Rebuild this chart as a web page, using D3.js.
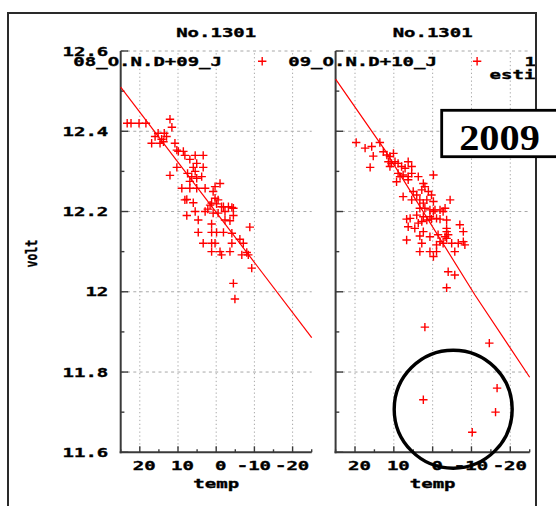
<!DOCTYPE html>
<html><head><meta charset="utf-8">
<script src="https://cdn.jsdelivr.net/npm/d3@7"></script>
<style>html,body{margin:0;padding:0;background:#fff;}svg{display:block;}</style>
</head><body>
<svg id="chart" width="556" height="506"></svg>
<script>
// ---- data ----
const panelTitles = ["No.1301", "No.1301"];
const seriesNames = ["08_O.N.D+09_J", "09_O.N.D+10_J"];
const extraKeyLabels = ["1", "estimate"];
const yTicks = [11.6, 11.8, 12, 12.2, 12.4, 12.6];
const yMinor = [11.7, 11.9, 12.1, 12.3, 12.5];
const xTicks = [20, 10, 0, -10, -20];
const xMinor = [25, 15, 5, -5, -15, -25];
const boxLabel = "2009";
const yLabel = "volt";
const xLabel = "temp";

// season 08 O.N.D + 09 J
const temp0809 = [23.3, 22.3, 20.2, 18.4, 12.1, 11.6, 15.2, 13.6, 16.0, 14.3, 13.0, 16.9, 14.7, 13.8, 10.8,
  10.3, 9.9, 8.6, 8.2, 5.5, 3.4, 6.9, 5.1, 3.4, 6.0, 10.3, 5.5, 7.5, 12.1, 6.4, 5.1, 3.8, 6.9, -1.0,
  9.0, 6.9, 5.1, 2.9, 0.3, 0.8, 7.7, 6.0, 0.3, -0.5, 1.6, -1.9, -4.1, 2.2, 8.2, 1.2, -0.1, -1.4, -3.2,
  -4.5, -2.3, -4.5, 2.9, 0.8, -0.5, 7.7, 5.5, 4.7, 1.2, -2.3, -3.6, -8.8, 4.7, 1.2, -0.1, -1.9, -4.1,
  3.4, 1.2, 0.3, -4.1, -6.2, -7.1, 1.2, -1.0, -1.4, -3.6, -6.7, -8.0, -8.4, -9.3, -4.5, -4.9];
const volt0809 = [12.42, 12.42, 12.42, 12.42, 12.43, 12.41, 12.395, 12.395, 12.387, 12.38, 12.387, 12.37, 12.37, 12.374, 12.37,
  12.353, 12.35, 12.35, 12.34, 12.34, 12.34, 12.33, 12.32, 12.31, 12.31, 12.31, 12.30, 12.295, 12.29, 12.287, 12.283, 12.287, 12.275, 12.27,
  12.258, 12.258, 12.258, 12.258, 12.262, 12.25, 12.23, 12.222, 12.233, 12.229, 12.216, 12.212, 12.21, 12.206, 12.229, 12.221, 12.219, 12.212, 12.212,
  12.208, 12.20, 12.19, 12.20, 12.196, 12.196, 12.19, 12.20, 12.179, 12.169, 12.179, 12.177, 12.161, 12.148, 12.148, 12.148, 12.148, 12.146,
  12.121, 12.121, 12.121, 12.121, 12.131, 12.121, 12.10, 12.10, 12.092, 12.10, 12.092, 12.098, 12.092, 12.059, 12.021, 11.982];

// season 09 O.N.D + 10 J
const temp0910 = [19.7, 17.4, 15.7, 13.6, 15.3, 16.1, 12.7, 11.8, 11.0, 10.1, 11.4, 10.6, 9.7, 11.0, 8.9, 8.0, 7.1,
  6.3, 5.4, 8.9, 8.4, 7.6, 6.3, 5.4, 3.7, -0.2, 9.3, 6.3, 2.4, 2.0, 2.8, 5.0, 4.1, 1.1, 0.3, 7.6, 5.4, 3.3,
  1.5, 2.4, -4.5, -0.2, 3.3, 2.0, 0.7, -0.6, -1.9, -3.2, 5.8, 2.4, 0.7, -1.0, 6.7, 4.1, -0.2, -2.7, 3.7,
  2.8, 1.5, 0.3, -1.9, -3.6, 6.3, 4.6, -3.6, -7.0, 2.4, -3.6, -4.0, -3.2, -3.6, -7.9, 3.3, 0.7, -1.4, 6.7,
  2.8, -1.9, -2.7, -1.0, -4.9, -6.6, -7.9, -8.3, 3.3, 0.7, -1.0, -5.7, -0.2, -4.0, -5.7, -3.6, 2.0, -14.6,
  -16.6, 2.4, -16.2, -10.2];
const volt0910 = [12.372, 12.358, 12.362, 12.372, 12.338, 12.31, 12.349, 12.341, 12.337, 12.345, 12.324, 12.32, 12.324, 12.312, 12.32, 12.312, 12.308,
  12.324, 12.312, 12.295, 12.287, 12.291, 12.287, 12.295, 12.287, 12.291, 12.274, 12.279, 12.27, 12.262, 12.254, 12.25, 12.241, 12.25, 12.241, 12.237, 12.229, 12.229,
  12.229, 12.221, 12.229, 12.225, 12.208, 12.208, 12.204, 12.204, 12.204, 12.208, 12.183, 12.187, 12.187, 12.183, 12.181, 12.191, 12.2, 12.2, 12.171,
  12.175, 12.179, 12.181, 12.181, 12.179, 12.162, 12.158, 12.158, 12.167, 12.15, 12.15, 12.142, 12.137, 12.133, 12.15, 12.139, 12.137, 12.142, 12.129,
  12.121, 12.125, 12.121, 12.117, 12.121, 12.121, 12.125, 12.117, 12.1, 12.1, 12.1, 12.1, 12.088, 12.05, 12.042, 12.01, 11.912, 11.872,
  11.76, 11.731, 11.7, 11.65];

// estimate curves
const fitTemp0809 = [25, -25];
const fitVolt0809 = [12.51, 11.886];
const fitTemp0910 = [25, 12.3, -10.9, -25];
const fitVolt0910 = [12.53, 12.353, 11.992, 11.787];

// ---- drawing ----
const svg = d3.select("#chart");
const RED = "#ff0000";
const MONO = "'DejaVu Sans Mono', monospace";
const AXIS = "#3a3a3a";
const GRID = "#a8a8a8";

const y = d3.scaleLinear().domain([11.6, 12.6]).range([452.3, 51]);

const clip = svg.append("defs").append("clipPath").attr("id", "canvasClip");
clip.append("rect").attr("x", 0).attr("y", 0).attr("width", 535.5).attr("height", 506);

const root = svg.append("g").attr("clip-path", "url(#canvasClip)");

// stretched heavy monospace text, (x, yb) is the anchor on the baseline
function wideText(parent, x, yb, str, anchor, sx = 1.52, size = 12.5) {
  const g = parent.append("g").attr("transform", `translate(${x},${yb}) scale(${sx},1)`);
  g.append("text")
    .attr("text-anchor", anchor)
    .attr("font-family", MONO)
    .attr("font-weight", "bold")
    .attr("font-size", size)
    .attr("fill", "#000")
    .attr("stroke", "#000")
    .attr("stroke-width", 0.35)
    .text(str);
  return g;
}

const panels = [
  { range: [120.7, 311.7], temp: temp0809, volt: volt0809, fitT: fitTemp0809, fitV: fitVolt0809,
    title: panelTitles[0], name: seriesNames[0], yLabels: true },
  { range: [335.6, 529.7], temp: temp0910, volt: volt0910, fitT: fitTemp0910, fitV: fitVolt0910,
    title: panelTitles[1], name: seriesNames[1], yLabels: false }
];

panels.forEach(p => {
  const x = d3.scaleLinear().domain([25, -25]).range(p.range);
  const g = root.append("g");
  const x0 = x(25), x1 = x(-25), yb = y(11.6), yt = y(12.6);

  // grid
  g.append("g").selectAll("line").data(xTicks).join("line")
    .attr("x1", d => x(d)).attr("x2", d => x(d)).attr("y1", yb).attr("y2", yt)
    .attr("stroke", GRID).attr("stroke-width", 1).attr("stroke-dasharray", "1.3,2.6");
  g.append("g").selectAll("line").data(yTicks.filter(d => d > 11.6)).join("line")
    .attr("x1", x0).attr("x2", x1).attr("y1", d => y(d)).attr("y2", d => y(d))
    .attr("stroke", GRID).attr("stroke-width", 1).attr("stroke-dasharray", "3,3.3");

  // axes
  g.append("line").attr("x1", x0).attr("x2", x0).attr("y1", yt).attr("y2", yb + 1)
    .attr("stroke", AXIS).attr("stroke-width", 2);
  g.append("line").attr("x1", x0 - 1).attr("x2", x1).attr("y1", yb).attr("y2", yb)
    .attr("stroke", AXIS).attr("stroke-width", 2);
  g.append("g").selectAll("line").data(yTicks).join("line")
    .attr("x1", x0).attr("x2", x0 + 7.5).attr("y1", d => y(d)).attr("y2", d => y(d))
    .attr("stroke", AXIS).attr("stroke-width", 1.4);
  g.append("g").selectAll("line").data(yMinor).join("line")
    .attr("x1", x0).attr("x2", x0 + 3.7).attr("y1", d => y(d)).attr("y2", d => y(d))
    .attr("stroke", AXIS).attr("stroke-width", 1.4);
  g.append("g").selectAll("line").data(xTicks).join("line")
    .attr("x1", d => x(d)).attr("x2", d => x(d)).attr("y1", yb).attr("y2", yb - 6)
    .attr("stroke", AXIS).attr("stroke-width", 1.4);
  g.append("g").selectAll("line").data(xMinor).join("line")
    .attr("x1", d => x(d)).attr("x2", d => x(d)).attr("y1", yb).attr("y2", yb - 3)
    .attr("stroke", AXIS).attr("stroke-width", 1.4);

  // tick labels
  if (p.yLabels) {
    yTicks.forEach(v => wideText(g, 108.3, y(v) + 4.6, String(v), "end"));
  }
  xTicks.forEach(t => wideText(g, x(t) + (t >= 0 ? 4.5 : -0.5), 470, String(t), "middle"));
  wideText(g, (x0 + x1) / 2, 487.5, xLabel, "middle");

  // estimate curve
  const pts = p.fitT.map((t, i) => [x(t), y(p.fitV[i])]);
  g.append("path").attr("d", d3.line()(pts))
    .attr("fill", "none").attr("stroke", RED).attr("stroke-width", 1.2);

  // observations
  const cross = "M-4.2,0H4.2M0,-4.2V4.2";
  g.append("g").selectAll("path").data(p.temp).join("path")
    .attr("transform", (t, i) => `translate(${x(t)},${y(p.volt[i])})`)
    .attr("d", cross).attr("stroke", RED).attr("stroke-width", 1.4).attr("fill", "none");

  // title and key
  wideText(g, (x0 + x1) / 2, 36.7, p.title, "middle");
  wideText(g, x0 + 101.3, 65.7, p.name, "end");
  g.append("path").attr("transform", `translate(${x0 + 141.5},61.3)`)
    .attr("d", cross).attr("stroke", RED).attr("stroke-width", 1.4);
});

// key overflow of the second panel
wideText(root, 524.4, 65.7, extraKeyLabels[0], "start");
wideText(root, 489.6, 79.3, extraKeyLabels[1], "start");

// shared y label
root.append("g").attr("transform", "translate(37.3,253.7) scale(1.35,1) rotate(-90)")
  .append("text").attr("text-anchor", "middle").attr("font-family", MONO)
  .attr("font-weight", "bold").attr("font-size", 11.5)
  .attr("stroke", "#000").attr("stroke-width", 0.3).text(yLabel);

// outer frame
svg.append("path").attr("d", "M8,520V13H536V520")
  .attr("fill", "none").attr("stroke", "#2a2a2a").attr("stroke-width", 2);

// year box
svg.append("rect").attr("x", 441.7).attr("y", 110.3).attr("width", 140).attr("height", 46.4)
  .attr("fill", "#fff").attr("stroke", "#000").attr("stroke-width", 2.8);
svg.append("g").attr("transform", "translate(499.5,150) scale(1.12,1)")
  .append("text").attr("text-anchor", "middle").attr("font-family", "'Liberation Serif', serif")
  .attr("font-weight", "bold").attr("font-size", 36).attr("fill", "#000").text(boxLabel);

// highlight ring
svg.append("circle").attr("cx", 453.2).attr("cy", 409.2).attr("r", 59)
  .attr("fill", "none").attr("stroke", "#000").attr("stroke-width", 3.4);
</script>
</body></html>
